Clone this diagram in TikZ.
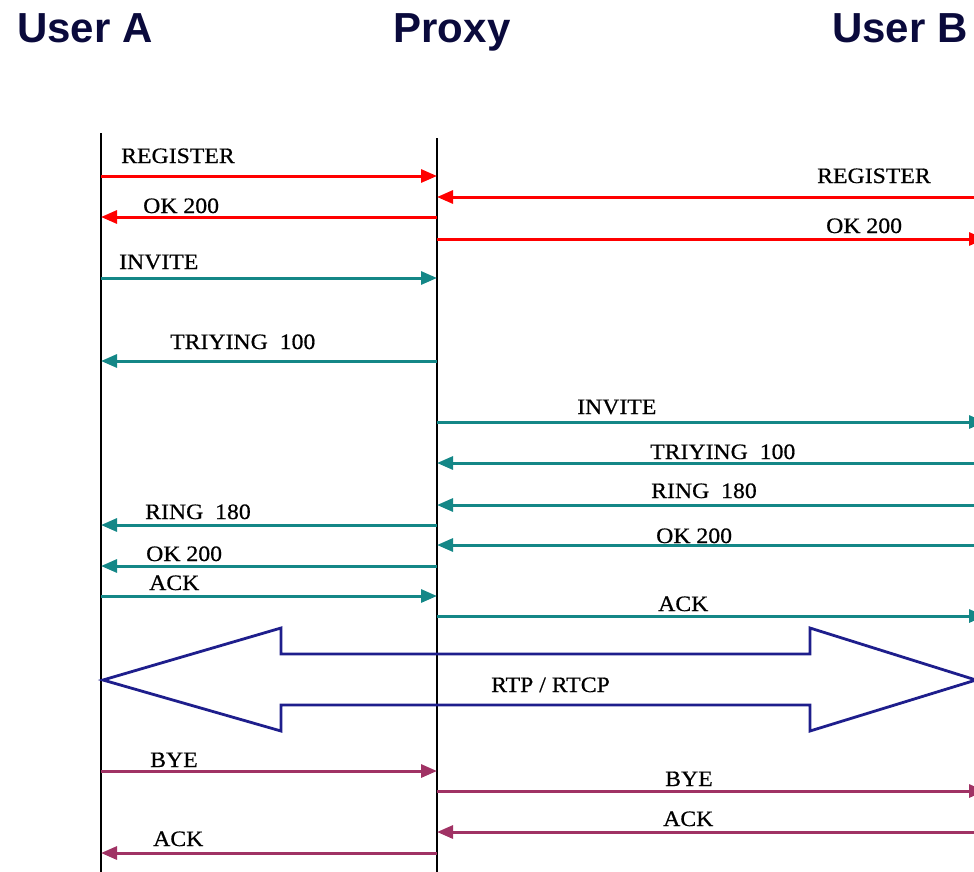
\documentclass[tikz,border=0pt]{standalone}
\usepackage{fontspec}
\setmainfont{Liberation Serif}
\newfontfamily\headfont{Liberation Sans}
\newfontfamily\msgfont{Liberation Serif}[FakeStretch=1.08,FakeBold=0.6]
\usetikzlibrary{arrows.meta}
\definecolor{sipred}{RGB}{255,0,0}
\definecolor{sipteal}{RGB}{20,135,135}
\definecolor{sipnavy}{RGB}{30,30,140}
\definecolor{sipplum}{RGB}{160,50,100}
\definecolor{headink}{RGB}{10,10,60}

\begin{document}
\begin{tikzpicture}[x=1pt,y=-1pt,
  head/.style={font=\headfont\bfseries\fontsize{42}{48}\selectfont, text=headink, anchor=base, inner sep=0pt},
  lifeline/.style={line width=1.8pt, black},
  msg/.style={line width=3pt, -{Triangle[length=16pt,width=13pt]}},
  lbl/.style={font=\msgfont\fontsize{22}{26}\selectfont, anchor=base west, inner sep=0pt, text=black},
  media/.style={line width=2.8pt, sipnavy, line join=miter}
]
\useasboundingbox (0,0) rectangle (974,871);

% headings
\node[head] (ua) at (85,42) {User A};
\node[head] (px) at (452,42) {Proxy};
\node[head] (ub) at (900,42) {User B};

% lifelines (User B's lies just past the right border)
\coordinate (A) at (101,133);
\coordinate (Aend) at (101,880);
\coordinate (P) at (437,138);
\coordinate (Pend) at (437,880);
\coordinate (B) at (985,0);
\draw[lifeline] (A) -- (Aend);
\draw[lifeline] (P) -- (Pend);

% registration
\draw[msg, sipred] (A |- 0,176) -- (P |- 0,176);
\node[lbl] (m1) at (121,163) {REGISTER};
\draw[msg, sipred] (B |- 0,197) -- (P |- 0,197);
\node[lbl] (m2) at (817,183) {REGISTER};
\draw[msg, sipred] (P |- 0,217) -- (A |- 0,217);
\node[lbl] (m3) at (143,213) {OK 200};
\draw[msg, sipred] (P |- 0,239) -- (B |- 0,239);
\node[lbl] (m4) at (826,233) {OK 200};

% call set-up
\draw[msg, sipteal] (A |- 0,278) -- (P |- 0,278);
\node[lbl] (m5) at (119,269) {INVITE};
\draw[msg, sipteal] (P |- 0,361) -- (A |- 0,361);
\node[lbl] (m6) at (170,349) {TRIYING~~100};
\draw[msg, sipteal] (P |- 0,422) -- (B |- 0,422);
\node[lbl] (m7) at (577,414) {INVITE};
\draw[msg, sipteal] (B |- 0,463) -- (P |- 0,463);
\node[lbl] (m8) at (650,459) {TRIYING~~100};
\draw[msg, sipteal] (B |- 0,505) -- (P |- 0,505);
\node[lbl] (m9) at (651,498) {RING~~180};
\draw[msg, sipteal] (P |- 0,525) -- (A |- 0,525);
\node[lbl] (m10) at (145,519) {RING~~180};
\draw[msg, sipteal] (B |- 0,545) -- (P |- 0,545);
\node[lbl] (m11) at (656,543) {OK 200};
\draw[msg, sipteal] (P |- 0,566) -- (A |- 0,566);
\node[lbl] (m12) at (146,561) {OK 200};
\draw[msg, sipteal] (A |- 0,596) -- (P |- 0,596);
\node[lbl] (m13) at (149,590) {ACK};
\draw[msg, sipteal] (P |- 0,616) -- (B |- 0,616);
\node[lbl] (m14) at (658,611) {ACK};

% media stream
\draw[media] (103,680) -- (281,628) -- (281,654) -- (810,654) -- (810,628)
  -- (976,680) -- (810,731) -- (810,705) -- (281,705) -- (281,731) -- cycle;
\node[lbl] (m15) at (491,692) {RTP / RTCP};

% tear-down
\draw[msg, sipplum] (A |- 0,771) -- (P |- 0,771);
\node[lbl] (m16) at (150,767) {BYE};
\draw[msg, sipplum] (P |- 0,791) -- (B |- 0,791);
\node[lbl] (m17) at (665,786) {BYE};
\draw[msg, sipplum] (B |- 0,832) -- (P |- 0,832);
\node[lbl] (m18) at (663,826) {ACK};
\draw[msg, sipplum] (P |- 0,853) -- (A |- 0,853);
\node[lbl] (m19) at (153,846) {ACK};
\end{tikzpicture}
\end{document}
